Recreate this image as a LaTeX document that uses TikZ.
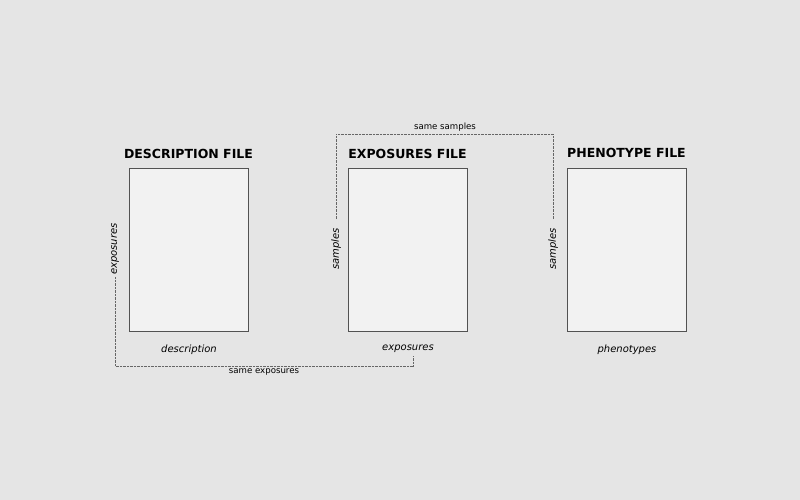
\documentclass[tikz,border=0pt]{standalone}
\usepackage{fontspec}
\setmainfont{DejaVu Sans}
\begin{document}
\begin{tikzpicture}[x=1pt,y=-1pt,
  filebox/.style={draw=black!68,fill=black!5,line width=1pt},
  title/.style={font=\fontsize{12.5}{14}\selectfont\bfseries,inner sep=0pt},
  axis/.style={font=\fontsize{10}{12}\selectfont\itshape,inner sep=0pt},
  link/.style={draw=black!60,dash pattern=on 0.7pt off 0.7pt,line width=0.7pt},
  linklbl/.style={font=\fontsize{8.6}{10}\selectfont,inner sep=0pt}]
\fill[black!10] (0,0) rectangle (800,500);
\useasboundingbox (0,0) rectangle (800,500);
% boxes
\node[filebox,minimum width=119pt,minimum height=163pt,inner sep=0pt] (desc) at (188.5,249.5) {};
\node[filebox,minimum width=119pt,minimum height=163pt,inner sep=0pt] (expf) at (407.5,249.5) {};
\node[filebox,minimum width=119pt,minimum height=163pt,inner sep=0pt] (phen) at (626.5,249.5) {};
% titles
\node[title] (tdesc) at (188.5,154) {DESCRIPTION FILE};
\node[title] (texp) at (407.5,154) {EXPOSURES FILE};
\node[title] (tphen) at (626.5,153) {PHENOTYPE FILE};
% axis labels
\node[axis] (ldesc) at (189,350) {description};
\node[axis] (lexp) at (408,349) {exposures};
\node[axis] (lphen) at (627,350) {phenotypes};
\node[axis,rotate=90] (sdesc) at (115,249) {exposures};
\node[axis,rotate=90] (sexp) at (336,249) {samples};
\node[axis,rotate=90] (sphen) at (553,249) {samples};
% links
\coordinate (ybot) at (0,366);
\coordinate (ytop) at (0,134);
\coordinate (expend) at ([xshift=5pt,yshift=-3pt]lexp.south);
\draw[link] ([yshift=-2pt]sdesc.west) -- (sdesc.west |- ybot) -| (expend);
\node[linklbl,anchor=north] (same1) at (264,368) {same exposures};
\draw[link] ([yshift=9pt]sexp.east) -- (sexp.east |- ytop) -| ([yshift=9pt]sphen.east);
\node[linklbl,anchor=south] (same2) at (445,131.5) {same samples};
\end{tikzpicture}
\end{document}
